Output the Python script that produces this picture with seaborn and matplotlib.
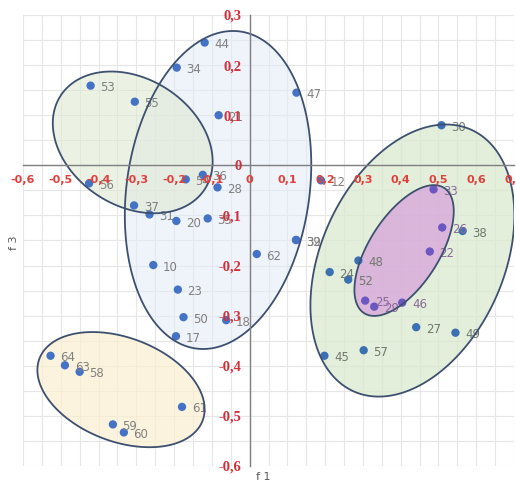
import numpy as np
import pandas as pd
import matplotlib
matplotlib.use("Agg")
import matplotlib.pyplot as plt
import seaborn as sns
from matplotlib.patches import Polygon
from matplotlib.path import Path
from matplotlib.ticker import MultipleLocator, FuncFormatter

# ---- data ----
labels = ["44", "34", "53", "55", "21", "47", "30", "36", "54", "56", "28", "37",
          "31", "20", "35", "10", "23", "50", "18", "17", "64", "63", "58", "61",
          "59", "60", "62", "39", "32", "12", "33", "26", "38", "22", "48", "24",
          "52", "25", "29", "46", "27", "49", "57", "45"]
f1 = [-0.119, -0.193, -0.421, -0.304, -0.082, 0.124, 0.508, -0.124, -0.169, -0.425,
      -0.085, -0.306, -0.265, -0.194, -0.111, -0.255, -0.190, -0.175, -0.062, -0.195,
      -0.527, -0.489, -0.450, -0.179, -0.362, -0.333, 0.019, 0.123, 0.123, 0.189,
      0.487, 0.510, 0.564, 0.477, 0.288, 0.212, 0.261, 0.306, 0.330, 0.404,
      0.441, 0.545, 0.302, 0.198]
f3 = [0.245, 0.195, 0.159, 0.127, 0.100, 0.145, 0.080, -0.019, -0.028, -0.036,
      -0.044, -0.080, -0.098, -0.111, -0.106, -0.199, -0.248, -0.303, -0.309, -0.341,
      -0.380, -0.399, -0.412, -0.482, -0.517, -0.533, -0.177, -0.149, -0.149, -0.030,
      -0.048, -0.124, -0.131, -0.172, -0.190, -0.213, -0.228, -0.270, -0.282, -0.274,
      -0.323, -0.334, -0.369, -0.380]

x_ticks = [-0.6, -0.5, -0.4, -0.3, -0.2, -0.1, 0, 0.1, 0.2, 0.3, 0.4, 0.5, 0.6, 0.7]
y_ticks = [-0.6, -0.5, -0.4, -0.3, -0.2, -0.1, 0, 0.1, 0.2, 0.3]

# ellipses: center x, center y, half width, half height, correlation, fill, alpha
ellipses = [
    (-0.0836, -0.0492, 0.2468, 0.3173, 0.16, "#e3eaf7", 0.55),
    (-0.3095, 0.0458, 0.2116, 0.1414, -0.27, "#dfead3", 0.6),
    (-0.3405, -0.4476, 0.2214, 0.1149, -0.34, "#fcefd0", 0.7),
    (0.431, -0.190, 0.270, 0.2715, 0.33, "#d8e9cc", 0.7),
    (0.409, -0.170, 0.1315, 0.1305, 0.60, "#d9a3dc", 0.75),
]

df = pd.DataFrame({"f1": f1, "f3": f3, "label": labels})

sns.set_theme(style="white")
plt.rcParams["font.family"] = ["DejaVu Sans"]

W, H = 516, 483
fig = plt.figure(figsize=(W / 100, H / 100), dpi=100)
ax = fig.add_axes([23 / W, 1 - 466 / H, (514 - 23) / W, (466 - 15) / H])
ax.set_xlim(-0.6, 0.7)
ax.set_ylim(-0.6, 0.3)
ax.set_axisbelow(False)

# grid
for v in np.arange(-0.6, 0.7001, 0.05):
    ax.axvline(v, color="#e6e6e6", lw=0.8, zorder=0)
for v in np.arange(-0.6, 0.3001, 0.05):
    ax.axhline(v, color="#e6e6e6", lw=0.8, zorder=0)

# ellipses
t = np.linspace(0, 2 * np.pi, 300)
paths = []
for cx, cy, ew, eh, rho, fc, al in ellipses:
    ex = cx + ew * np.cos(t)
    ey = cy + eh * (rho * np.cos(t) + np.sqrt(1 - rho ** 2) * np.sin(t))
    pts = np.column_stack([ex, ey])
    ax.add_patch(Polygon(pts, closed=True, facecolor=fc, alpha=al, edgecolor="none", zorder=1))
    ax.add_patch(Polygon(pts, closed=True, facecolor="none", edgecolor="#3d5070", lw=1.3, zorder=4))
    paths.append(Path(pts))

xy = df[["f1", "f3"]].to_numpy()
in_green = paths[3].contains_points(xy)
in_pink = paths[4].contains_points(xy)
colors = np.where(in_pink, "#6a58c0", np.where(in_green, "#3b71b2", "#4472c4"))
lcolors = np.where(in_pink, "#8a6a9a", np.where(in_green, "#6f7a6e", "#808080"))

sns.scatterplot(data=df, x="f1", y="f3", c=colors, s=36, edgecolor="none",
                ax=ax, zorder=3, legend=False)
for i, r in df.iterrows():
    ax.annotate(r["label"], (r["f1"], r["f3"]), xytext=(7, -1.5),
                textcoords="offset points", fontsize=8.5, color=lcolors[i],
                va="center", ha="left", zorder=3)

# axes through origin
for s in ["top", "right"]:
    ax.spines[s].set_visible(False)
ax.spines["left"].set_position(("data", 0))
ax.spines["bottom"].set_position(("data", 0))
for s in ["left", "bottom"]:
    ax.spines[s].set_color("#7f7f7f")
    ax.spines[s].set_linewidth(1.0)
    ax.spines[s].set_zorder(5)
ax.xaxis.set_zorder(6)
ax.yaxis.set_zorder(6)

fmt = FuncFormatter(lambda v, p: ("%g" % round(v, 2)).replace(".", ","))
ax.set_xticks(x_ticks)
ax.set_yticks(y_ticks)
ax.xaxis.set_minor_locator(MultipleLocator(0.05))
ax.yaxis.set_minor_locator(MultipleLocator(0.05))
ax.xaxis.set_major_formatter(fmt)
ax.yaxis.set_major_formatter(fmt)
ax.tick_params(axis="x", which="both", direction="inout", length=6, width=1,
               color="#7f7f7f", pad=4, labelsize=8, labelcolor="#e0403c")
ax.tick_params(axis="y", which="both", direction="out", length=4, width=1,
               color="#7f7f7f", pad=2, labelsize=10.5, labelcolor="#d32f3a")
for lab in ax.get_xticklabels():
    lab.set_fontweight("bold")
for lab in ax.get_yticklabels():
    lab.set_fontfamily("Liberation Serif")
    lab.set_fontweight("bold")
ax.set_xlabel("")
ax.set_ylabel("")
ax.set_facecolor("white")

fig.text(14 / W, 1 - 243 / H, "f 3", rotation=90, ha="center", va="center",
         fontsize=8, color="#595959")
fig.text(263 / W, 1 - 477 / H, "f 1", ha="center", va="center",
         fontsize=8, color="#595959")

fig.savefig("out.png", dpi=100)
